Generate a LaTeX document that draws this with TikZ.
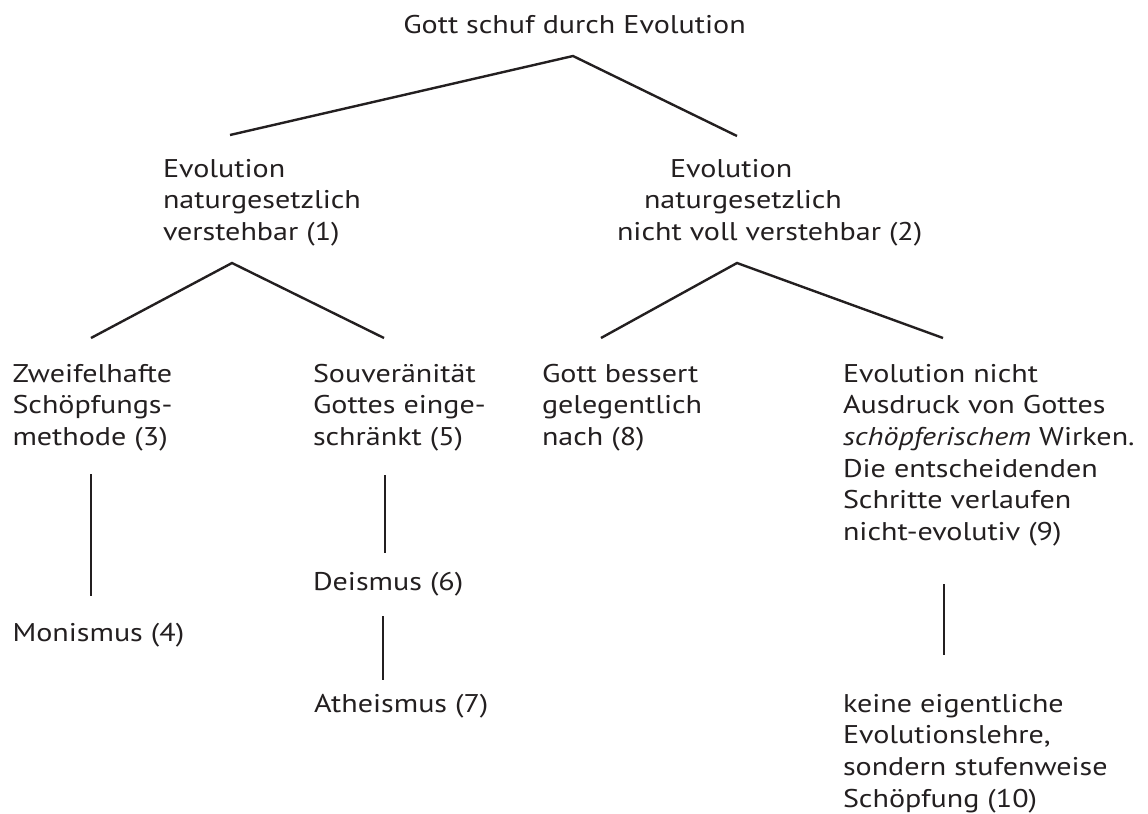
\documentclass[tikz,border=0pt]{standalone}
\usepackage{tikz}
\usepackage{fontspec}
\newfontfamily\probefont{PT Sans}
\newlength\probew
\settowidth\probew{\probefont\fontsize{12.8pt}{15.85pt}\selectfont Gott schuf durch Evolution\kern0pt nicht voll verstehbar (2)\kern0pt Atheismus (7)\kern0pt naturgesetzlich}
\pgfmathsetmacro\stretchratio{510pt/\probew}
\edef\dosetfont{\noexpand\setmainfont[FakeStretch=\stretchratio]{PT Sans}}
\dosetfont
\definecolor{ink}{HTML}{231F20}
\newcommand\fs{\fontsize{12.8pt}{15.85pt}\selectfont}
\newcommand\blk[1]{\vtop{\baselineskip=15.85pt\lineskiplimit=-20pt\relax #1}}
\tikzset{
  txt/.style={anchor=base west, inner sep=0pt, outer sep=0pt, text=ink, font=\fs},
  link/.style={draw=ink, line width=1.2pt},
}
\begin{document}
\begin{tikzpicture}[x=0.5pt, y=-0.5pt]
\fill[white] (0,0) rectangle (1148,814);
\useasboundingbox (0,0) rectangle (1148,814);

% text nodes
\node[txt, anchor=base] (n0) at (574.5,33) {Gott schuf durch Evolution};
\node[txt] (n1) at (163,177) {\blk{\hbox{Evolution}\hbox{naturgesetzlich}\hbox{verstehbar (1)}}};
\node[txt] (n2) at (617,177) {\blk{\hbox{\kern26.5pt Evolution}\hbox{\kern13.5pt naturgesetzlich}\hbox{nicht voll verstehbar (2)}}};
\node[txt] (n3) at (12.5,382) {\blk{\hbox{Zweifelhafte}\hbox{Schöpfungs-}\hbox{methode (3)}}};
\node[txt] (n5) at (313,382) {\blk{\hbox{Souveränität}\hbox{Gottes einge-}\hbox{schränkt (5)}}};
\node[txt] (n8) at (542,382) {\blk{\hbox{Gott bessert}\hbox{gelegentlich}\hbox{nach (8)}}};
\node[txt] (n9) at (843,382) {\blk{\hbox{Evolution nicht}\hbox{Ausdruck von Gottes}\hbox{\textit{schöpferischem} Wirken.}\hbox{Die entscheidenden}\hbox{Schritte verlaufen}\hbox{nicht-evolutiv (9)}}};
\node[txt] (n4) at (12.5,641) {Monismus (4)};
\node[txt] (n6) at (313,590) {Deismus (6)};
\node[txt] (n7) at (314,712) {Atheismus (7)};
\node[txt] (n10) at (843,712) {\blk{\hbox{keine eigentliche}\hbox{Evolutionslehre,}\hbox{sondern stufenweise}\hbox{Schöpfung (10)}}};

% connector end points
\coordinate (c0) at (573,56);
\coordinate (c0l) at (230,135);
\coordinate (c0r) at (737,136);
\coordinate (c1) at (232,263);
\coordinate (c1l) at (91,338);
\coordinate (c1r) at (384,338);
\coordinate (c2) at (737,263);
\coordinate (c2l) at (601,338);
\coordinate (c2r) at (943,338);
\coordinate (v3a) at (91,474);
\coordinate (v3b) at (91,596);
\coordinate (v5a) at (385,475);
\coordinate (v5b) at (385,553);
\coordinate (v6a) at (383,616);
\coordinate (v6b) at (383,680);
\coordinate (v9a) at (944,584);
\coordinate (v9b) at (944,655);

% connectors
\draw[link] (c0l) -- (c0) -- (c0r);
\draw[link] (c1l) -- (c1) -- (c1r);
\draw[link] (c2l) -- (c2) -- (c2r);
\draw[link] (v3a) -- (v3b);
\draw[link] (v5a) -- (v5b);
\draw[link] (v6a) -- (v6b);
\draw[link] (v9a) -- (v9b);
\end{tikzpicture}
\end{document}
